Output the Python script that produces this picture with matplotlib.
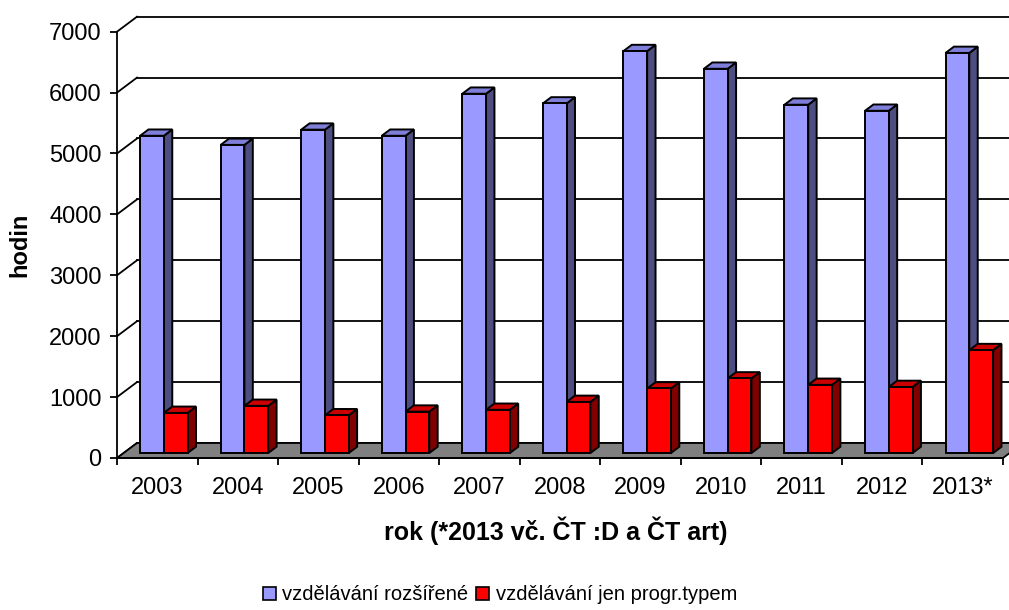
import numpy as np
import matplotlib.pyplot as plt
from matplotlib.patches import Polygon, Patch

# data
years = ['2003', '2004', '2005', '2006', '2007', '2008', '2009', '2010', '2011', '2012', '2013*']
rozsirene = [5210, 5060, 5310, 5210, 5900, 5740, 6600, 6310, 5720, 5620, 6570]
jen_typem = [660, 775, 620, 680, 710, 840, 1060, 1225, 1120, 1085, 1690]
series_names = ['vzdělávání rozšířené', 'vzdělávání jen progr.typem']

plt.rcParams['font.family'] = ['Liberation Sans', 'DejaVu Sans']

fig = plt.figure(figsize=(10.09, 6.10), dpi=100)
ax = fig.add_axes([117 / 1009, 152 / 610, 886 / 1009, 426.3 / 610])
n = len(years)
ymax = 7000
ax.set_xlim(-0.5, n - 0.5)
ax.set_ylim(0, ymax)

# fake 3d: depth of the back wall in data units (~20 px right, 15 px up)
dxw = 20 * n / 886
dyw = 15 * ymax / 426.3
d0, dd = 0.33, 0.42   # bar front position / bar depth as fraction of wall depth
w = 0.295

# back wall + left wall gridlines
for v in range(0, ymax + 1, 1000):
    ax.plot([-0.5 + dxw, n - 0.5 + dxw], [v + dyw, v + dyw], color='k', lw=1.3,
            clip_on=False, zorder=1)
    ax.plot([-0.5, -0.5 + dxw], [v, v + dyw], color='k', lw=1.3, clip_on=False, zorder=1)

# floor
floor = Polygon([(-0.5, 0), (n - 0.5, 0), (n - 0.5 + dxw, dyw), (-0.5 + dxw, dyw)],
                closed=True, fc='#808080', ec='k', lw=1.3, clip_on=False, zorder=1.5)
ax.add_patch(floor)


def box(x0, h, front, top, side, z):
    x0 = x0 + d0 * dxw
    y0 = d0 * dyw
    ddx, ddy = dd * dxw, dd * dyw
    faces = [
        ([(x0 + w, y0), (x0 + w + ddx, y0 + ddy), (x0 + w + ddx, y0 + h + ddy), (x0 + w, y0 + h)], side),
        ([(x0, y0 + h), (x0 + w, y0 + h), (x0 + w + ddx, y0 + h + ddy), (x0 + ddx, y0 + h + ddy)], top),
        ([(x0, y0), (x0 + w, y0), (x0 + w, y0 + h), (x0, y0 + h)], front),
    ]
    for pts, c in faces:
        ax.add_patch(Polygon(pts, closed=True, fc=c, ec='k', lw=1.4, joinstyle='miter',
                             clip_on=False, zorder=z))


for i in range(n):
    box(i - w, rozsirene[i], '#9999FF', '#7F7FD9', '#4D4D80', 2 + i * 0.1)
    box(i, jen_typem[i], '#FF0000', '#CC0000', '#800000', 2.05 + i * 0.1)

# axes
for s in ['top', 'right']:
    ax.spines[s].set_visible(False)
ax.spines['left'].set_linewidth(1.3)
ax.spines['bottom'].set_linewidth(1.3)
ax.spines['bottom'].set_zorder(1.6)
ax.set_yticks(range(0, ymax + 1, 1000))
ax.tick_params(axis='y', length=5, width=1.3, pad=6, labelsize=17)
ax.set_xticks(range(n))
ax.set_xticklabels(years)
ax.set_xticks(np.arange(-0.5, n, 1), minor=True)
ax.tick_params(axis='x', which='major', length=0, pad=14, labelsize=17)
ax.tick_params(axis='x', which='minor', length=5, width=1.3)

ax.set_ylabel('hodin', fontsize=17, fontweight='bold')
ax.yaxis.set_label_coords(-0.097, 0.5)
ax.set_xlabel('rok (*2013 vč. ČT :D a ČT art)', fontsize=18, fontweight='bold')
ax.xaxis.set_label_coords(0.4955, -0.138)

handles = [Patch(fc='#9999FF', ec='k', lw=1.2), Patch(fc='#FF0000', ec='k', lw=1.2)]
fig.legend(handles, series_names, loc='center', bbox_to_anchor=(500 / 1009, 1 - 595 / 610),
           ncol=2, frameon=False, fontsize=14.5, handlelength=0.65, handleheight=0.65,
           handletextpad=0.3, columnspacing=0.4, borderaxespad=0)

fig.savefig('out.png', dpi=100)
